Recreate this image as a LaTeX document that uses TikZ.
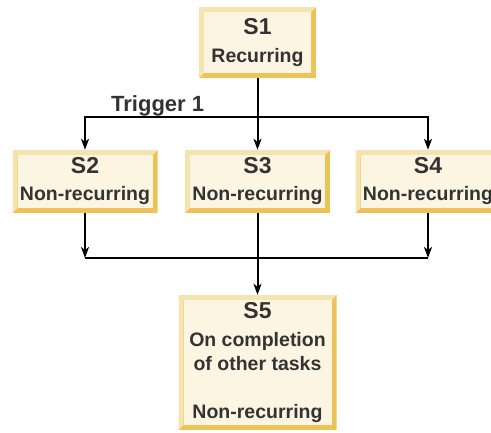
\documentclass[tikz,border=0pt]{standalone}
\usepackage{fontspec}
\setmainfont{Liberation Sans}
\usepackage{tikz}
\usepackage{xcolor}
\usetikzlibrary{arrows.meta}

\definecolor{boxfill}{HTML}{FBF5E2}
\definecolor{bevlight}{HTML}{F5E3B0}
\definecolor{bevdark}{HTML}{EDC358}
\definecolor{txt}{HTML}{333333}

\newcommand\sname[1]{{\fontsize{23}{26}\selectfont #1}}
\newcommand\bevelbox{%
  \fill[bevdark] (path picture bounding box.south west) rectangle (path picture bounding box.north east);
  \fill[bevlight] (path picture bounding box.south west) -- (path picture bounding box.north west)
    -- (path picture bounding box.north east) -- ([shift={(-5pt,-5pt)}]path picture bounding box.north east)
    -- ([shift={(5pt,-5pt)}]path picture bounding box.north west) -- ([shift={(5pt,5pt)}]path picture bounding box.south west) -- cycle;
  \fill[boxfill] ([shift={(5pt,5pt)}]path picture bounding box.south west) rectangle ([shift={(-5pt,-5pt)}]path picture bounding box.north east);}

\begin{document}
\begin{tikzpicture}[x=1pt,y=-1pt]
      \useasboundingbox (0,0) rectangle (491,432);
      \tikzset{B/.style = {shape=rectangle, inner sep=0pt, minimum width=145pt, minimum height=63pt,
          align=center, text=txt, font=\bfseries\fontsize{19.5}{24}\selectfont, path picture={\bevelbox}}}
      \tikzset{E/.style = {draw, line width=2pt, -{Stealth[length=11pt,width=8pt,inset=3pt]}}}
      \tikzset{L/.style = {draw, line width=2pt}}
      \node[B,minimum width=117pt,minimum height=71pt](s1) at (257.5,42.5) {\sname{S1}\\[4pt]Recurring};
      \node[B](s2) at (85,181.5) {\sname{S2}\\[3pt]Non-recurring};
      \node[B](s3) at (257.5,181.5) {\sname{S3}\\[3pt]Non-recurring};
      \node[B](s4) at (428,181.5) {\sname{S4}\\[3pt]Non-recurring};
      \node[B,minimum width=158pt,minimum height=135pt](s5) at (257.5,362.5)
        {\sname{S5}\\[4pt]On completion\\of other tasks\\[24pt]Non-recurring};
      \node[anchor=base west,inner sep=0pt,text=txt,font=\bfseries\fontsize{22}{24}\selectfont](trig) at (111,111) {Trigger 1};
      \coordinate (tl) at (85,117);
      \coordinate (tr) at (428,117);
      \coordinate (bl) at (85,258);
      \coordinate (br) at (428,258);
      \draw[E,{Stealth[length=11pt,width=8pt,inset=3pt]}-{Stealth[length=11pt,width=8pt,inset=3pt]}](s2) -- (tl) -- (tr) -- (s4);
      \draw[E](s1) to (s3);
      \draw[E](s2) to (bl);
      \draw[E](s4) to (br);
      \draw[L](bl) to (br);
      \draw[E](s3) to (s5);
    \end{tikzpicture}
\end{document}
